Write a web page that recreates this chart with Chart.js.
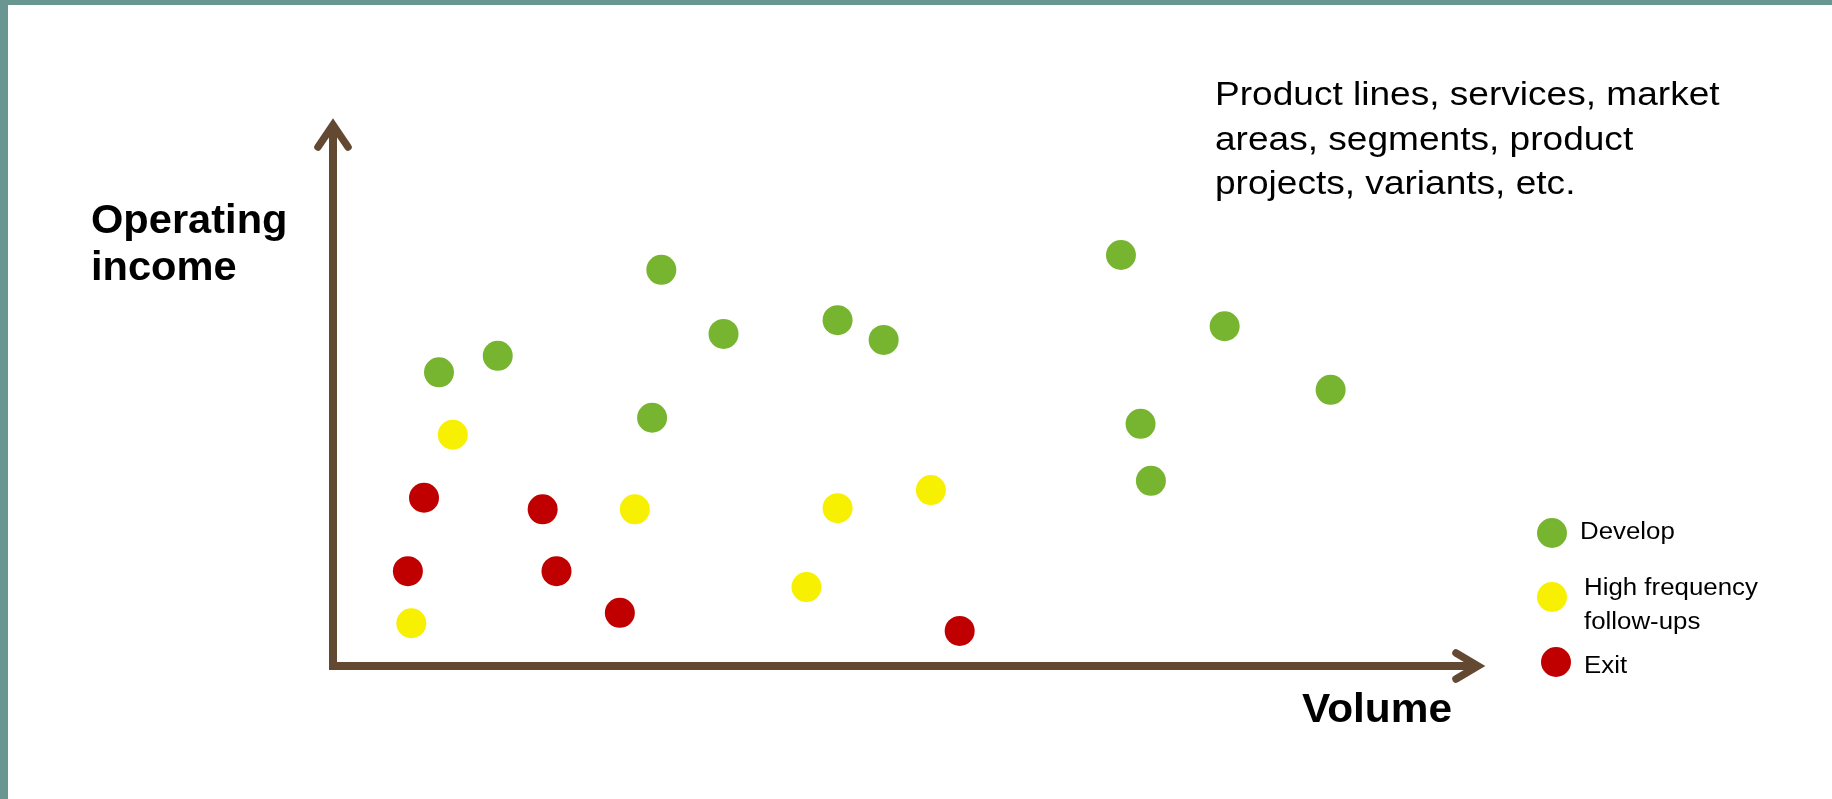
<!DOCTYPE html>
<html>
<head>
<meta charset="utf-8">
<script src="https://cdn.jsdelivr.net/npm/chart.js@4"></script>
<style>
  html, body { margin: 0; padding: 0; background: #ffffff; overflow: hidden; }
  #wrap { width: 1832px; height: 799px; position: relative; }
  canvas { display: block; }
</style>
</head>
<body>
<div id="wrap"><canvas id="portfolio" width="1832" height="799"></canvas></div>
<script>
// Portfolio positions: volume (x) against operating income (y), relative units 0-100
const seriesNames = ['Develop', 'High frequency follow-ups', 'Exit'];
const legendLines = [['Develop'], ['High frequency', 'follow-ups'], ['Exit']];

const developX = [9.2, 14.3, 28.5, 33.9, 27.7, 43.8, 47.8, 68.4, 77.4, 86.6, 70.1, 71.0];
const developY = [53.6, 56.6, 72.3, 60.6, 45.3, 63.1, 59.5, 75.0, 62.0, 50.4, 44.2, 33.8];

const followX = [10.4, 26.2, 43.8, 51.9, 41.1, 6.8];
const followY = [42.2, 28.6, 28.8, 32.1, 14.4, 7.8];

const exitX = [7.9, 18.2, 6.5, 19.4, 24.9, 54.4];
const exitY = [30.7, 28.6, 17.3, 17.3, 9.7, 6.4];

const axisTitleY = ['Operating', 'income'];
const axisTitleX = 'Volume';
const noteLines = ['Product lines, services, market', 'areas, segments, product', 'projects, variants, etc.'];

const colors = ['#77B531', '#F7F000', '#C00000'];
const axisColor = '#634832';
const frameColor = '#6A9691';

function toPoints(xs, ys) { return xs.map((x, i) => ({ x: x, y: ys[i] })); }

// Text helper with optional horizontal widening of the lettering
function wideText(ctx, str, x, y, font, sx) {
  ctx.save();
  ctx.font = font;
  ctx.textBaseline = 'alphabetic';
  ctx.textAlign = 'left';
  ctx.translate(x, y);
  ctx.scale(sx, 1);
  ctx.fillText(str, 0, 0);
  ctx.restore();
}

const framePlugin = {
  id: 'frame',
  beforeDraw(chart) {
    const ctx = chart.ctx;
    ctx.save();
    ctx.fillStyle = '#ffffff';
    ctx.fillRect(0, 0, chart.width, chart.height);
    ctx.fillStyle = frameColor;
    ctx.fillRect(0, 0, chart.width, 5);
    ctx.fillRect(0, 0, 8, chart.height);
    ctx.restore();
  }
};

// Arrow-headed axes drawn from the chart's own scales
const arrowAxes = {
  id: 'arrowAxes',
  beforeDatasetsDraw(chart) {
    const ctx = chart.ctx;
    const xs = chart.scales.x, ys = chart.scales.y;
    const x0 = xs.getPixelForValue(xs.min);
    const y0 = ys.getPixelForValue(ys.min);
    const xEnd = xs.getPixelForValue(xs.max);
    const yEnd = ys.getPixelForValue(ys.max);
    ctx.save();
    ctx.strokeStyle = axisColor;
    ctx.lineWidth = 8;
    ctx.lineJoin = 'miter';
    ctx.lineCap = 'butt';
    // shafts with a square corner at the origin
    ctx.beginPath();
    ctx.moveTo(x0, yEnd + 8);
    ctx.lineTo(x0, y0);
    ctx.lineTo(xEnd - 8, y0);
    ctx.stroke();
    // open chevron heads
    ctx.lineCap = 'round';
    ctx.lineWidth = 7.5;
    ctx.beginPath();
    ctx.moveTo(x0 - 15, yEnd + 29);
    ctx.lineTo(x0, yEnd + 7);
    ctx.lineTo(x0 + 15, yEnd + 29);
    ctx.stroke();
    ctx.beginPath();
    ctx.moveTo(xEnd - 29, y0 - 13);
    ctx.lineTo(xEnd - 7, y0);
    ctx.lineTo(xEnd - 29, y0 + 13);
    ctx.stroke();
    ctx.restore();
  }
};

const labelsPlugin = {
  id: 'labelsPlugin',
  afterDraw(chart) {
    const ctx = chart.ctx;
    ctx.save();
    ctx.fillStyle = '#000000';
    const fam = '"Liberation Sans", Arial, sans-serif';
    // axis titles
    wideText(ctx, axisTitleY[0], 91, 233, 'bold 40px ' + fam, 1.04);
    wideText(ctx, axisTitleY[1], 91, 280, 'bold 40px ' + fam, 1.04);
    wideText(ctx, axisTitleX, 1302, 722, 'bold 40px ' + fam, 1.06);
    // note at top right
    noteLines.forEach((t, i) => wideText(ctx, t, 1215, 105 + i * 44.5, '34px ' + fam, 1.09));
    // legend
    const marks = [[1552, 533], [1552, 597], [1556, 662]];
    const baselines = [[539], [595, 629], [673]];
    const textX = [1580, 1584, 1584];
    chart.data.datasets.forEach((ds, i) => {
      ctx.fillStyle = ds.backgroundColor;
      ctx.beginPath();
      ctx.arc(marks[i][0], marks[i][1], 15, 0, Math.PI * 2);
      ctx.fill();
      ctx.fillStyle = '#000000';
      legendLines[i].forEach((line, j) => wideText(ctx, line, textX[i], baselines[i][j], '23.5px ' + fam, 1.1));
    });
    ctx.restore();
  }
};

new Chart(document.getElementById('portfolio'), {
  type: 'scatter',
  data: {
    datasets: [
      { label: seriesNames[0], data: toPoints(developX, developY), backgroundColor: colors[0], borderWidth: 0, pointRadius: 15, pointHoverRadius: 15 },
      { label: seriesNames[1], data: toPoints(followX, followY), backgroundColor: colors[1], borderWidth: 0, pointRadius: 15, pointHoverRadius: 15 },
      { label: seriesNames[2], data: toPoints(exitX, exitY), backgroundColor: colors[2], borderWidth: 0, pointRadius: 15, pointHoverRadius: 15 }
    ]
  },
  options: {
    responsive: false,
    animation: false,
    devicePixelRatio: 1,
    layout: { padding: { left: 333, right: 347, top: 118, bottom: 133 } },
    plugins: { legend: { display: false }, tooltip: { enabled: false } },
    scales: {
      x: { type: 'linear', min: 0, max: 100, display: false },
      y: { type: 'linear', min: 0, max: 100, display: false }
    }
  },
  plugins: [framePlugin, arrowAxes, labelsPlugin]
});
</script>
</body>
</html>
